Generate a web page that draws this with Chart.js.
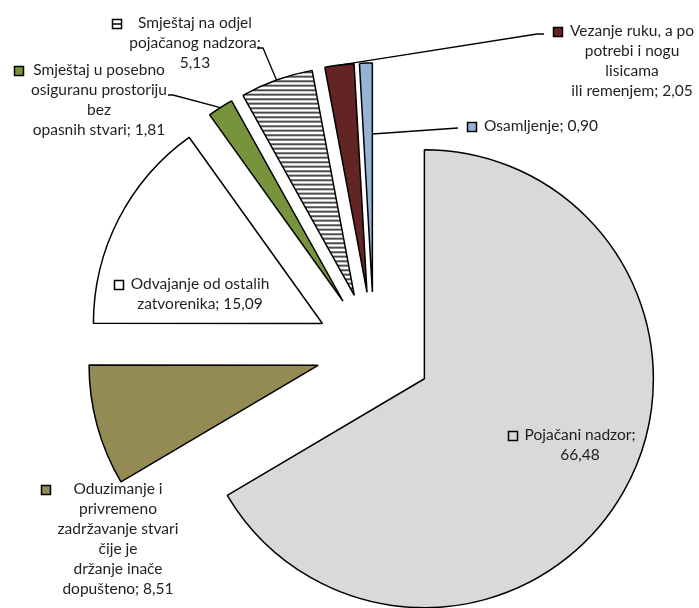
<!DOCTYPE html>
<html>
<head>
<meta charset="utf-8">
<script src="https://cdn.jsdelivr.net/npm/chart.js@4.4.1/dist/chart.umd.min.js"></script>
<style>
  body { margin: 0; background: #fff; }
  canvas { display: block; }
</style>
</head>
<body>
<canvas id="pieChart" width="699" height="608"></canvas>
<script>
var categories = [
    "Pojačani nadzor",
    "Oduzimanje i privremeno zadržavanje stvari čije je držanje inače dopušteno",
    "Odvajanje od ostalih zatvorenika",
    "Smještaj u posebno osiguranu prostoriju bez opasnih stvari",
    "Smještaj na odjel pojačanog nadzora",
    "Vezanje ruku, a po potrebi i nogu lisicama ili remenjem",
    "Osamljenje"
];

var values = [66.48, 8.51, 15.09, 1.81, 5.13, 2.05, 0.90];

// label text as it wraps in the picture, {v} is the value
var labelLines = [
    ["Pojačani nadzor;", "{v}"],
    ["Oduzimanje i", "privremeno", "zadržavanje stvari", "čije je", "držanje inače", "dopušteno; {v}"],
    ["Odvajanje od ostalih", "zatvorenika; {v}"],
    ["Smještaj u posebno", "osiguranu prostoriju", "bez", "opasnih stvari; {v}"],
    ["Smještaj na odjel", "pojačanog nadzora;", "{v}"],
    ["Vezanje ruku, a po", "potrebi i nogu", "lisicama", "ili remenjem; {v}"],
    ["Osamljenje; {v}"]
];

// where each label sits (centre x, first line y) and its leader line
var labelPos = [[580, 435], [118, 489], [200, 284], [99, 70], [195, 23], [632, 31], [541, 126]];
var leaders = [
    null, null, null,
    { f: 0.5, r: 1, via: [[173, 95], [168, 95]] },
    { f: 0.5, r: 1, via: [[263, 48], [257, 48]] },
    { f: 0.5, r: 1, via: [[537, 34], [544, 34]] },
    { f: 1, r: 0.69, via: [[458, 128]] }
];

function hatch() {
    var c = document.createElement('canvas');
    c.width = 8;
    c.height = 9;
    var g = c.getContext('2d');
    g.fillStyle = '#fff';
    g.fillRect(0, 0, 8, 9);
    g.fillStyle = '#000';
    g.fillRect(0, 0, 8, 1.4);
    g.fillRect(0, 4.5, 8, 1.4);
    return g.createPattern(c, 'repeat');
}

var ctx = document.getElementById('pieChart').getContext('2d');
var fills = ['#D9D9D9', '#948A54', '#FFFFFF', '#77933C', hatch(), '#632523', '#95B3D7'];

function fmt(v) {
    return v.toFixed(2).replace('.', ',');
}

var explodePlugin = {
    id: 'explode',
    beforeDatasetDraw: function(chart, args, opts) {
        var c = chart.ctx;
        args.meta.data.forEach(function(arc) {
            var mid = (arc.startAngle + arc.endAngle) / 2;
            c.save();
            c.translate(Math.cos(mid) * opts.distance, Math.sin(mid) * opts.distance);
            arc.draw(c);
            c.restore();
        });
        return false;
    }
};

var labelPlugin = {
    id: 'sliceLabels',
    afterDraw: function(chart, args, opts) {
        var c = chart.ctx;
        var d = chart.options.plugins.explode.distance;
        var arcs = chart.getDatasetMeta(0).data;
        c.save();
        c.font = opts.font;
        c.textAlign = 'center';
        c.textBaseline = 'middle';

        arcs.forEach(function(arc, i) {
            var ld = leaders[i];
            if (!ld) return;
            var mid = (arc.startAngle + arc.endAngle) / 2;
            var a = arc.startAngle + ld.f * (arc.endAngle - arc.startAngle);
            var r = ld.r * arc.outerRadius;
            c.beginPath();
            c.moveTo(arc.x + Math.cos(mid) * d + Math.cos(a) * r, arc.y + Math.sin(mid) * d + Math.sin(a) * r);
            ld.via.forEach(function(p) { c.lineTo(p[0], p[1]); });
            c.strokeStyle = '#000';
            c.lineWidth = 1.3;
            c.stroke();
        });

        labelLines.forEach(function(lines, i) {
            var txt = lines.map(function(s) { return s.replace('{v}', fmt(values[i])); });
            var maxW = 0;
            txt.forEach(function(s) { maxW = Math.max(maxW, c.measureText(s).width); });
            var cx = labelPos[i][0], y = labelPos[i][1];
            c.fillStyle = opts.color;
            txt.forEach(function(s, k) { c.fillText(s, cx, y + k * opts.lineHeight); });

            // legend key in front of the label
            var kx = Math.round(cx - maxW / 2 - 8 - 9) + 0.5;
            var ky = Math.round(y - 4.5) + 0.5;
            var patterned = typeof fills[i] !== 'string';
            c.fillStyle = patterned ? '#fff' : fills[i];
            c.fillRect(kx, ky, 9, 9);
            c.strokeStyle = '#000';
            c.lineWidth = 1.5;
            if (patterned) {
                c.beginPath();
                c.moveTo(kx, ky + 4.5);
                c.lineTo(kx + 9, ky + 4.5);
                c.stroke();
            }
            c.strokeRect(kx, ky, 9, 9);
        });
        c.restore();
    }
};

new Chart(ctx, {
    type: 'pie',
    data: {
        labels: categories,
        datasets: [{
            data: values,
            backgroundColor: fills,
            borderColor: '#000',
            borderWidth: 1.5,
            radius: 229
        }]
    },
    options: {
        responsive: false,
        animation: false,
        events: [],
        layout: { padding: { left: 49, top: 92, right: 0, bottom: 0 } },
        plugins: {
            legend: { display: false },
            tooltip: { enabled: false },
            explode: { distance: 58 },
            sliceLabels: { font: '15.5px Lato', color: '#1f1f1f', lineHeight: 20 }
        }
    },
    plugins: [explodePlugin, labelPlugin]
});
</script>
</body>
</html>
